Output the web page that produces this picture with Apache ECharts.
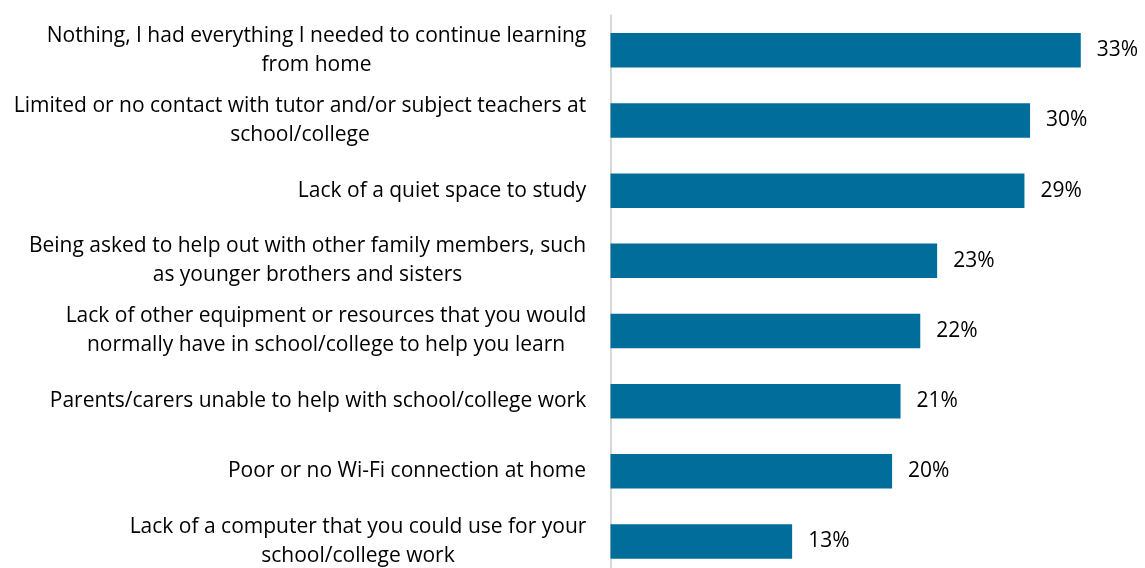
<!DOCTYPE html>
<html>
<head>
<meta charset="utf-8">
<script src="https://cdn.jsdelivr.net/npm/echarts@6/dist/echarts.min.js"></script>
<style>
html,body{margin:0;padding:0;background:#fff;overflow:hidden;}
#chart{width:1145px;height:590px;}
</style>
</head>
<body>
<div id="chart"></div>
<script>
const categories = [
  "Nothing, I had everything I needed to continue learning\nfrom home",
  "Limited or no contact with tutor and/or subject teachers at\nschool/college",
  "Lack of a quiet space to study",
  "Being asked to help out with other family members, such\nas younger brothers and sisters",
  "Lack of other equipment or resources that you would\nnormally have in school/college to help you learn",
  "Parents/carers unable to help with school/college work",
  "Poor or no Wi-Fi connection at home",
  "Lack of a computer that you could use for your\nschool/college work"
];
const values = [33.4, 29.8, 29.4, 23.2, 22.0, 20.6, 20.0, 12.9];

const FONT = 'Open Sans';
const FS = 21;
const LH = 29;
const TEXT_COLOR = '#000000';
const BAR_COLOR = '#006d9a';

const ctx = document.createElement('canvas').getContext('2d');
ctx.font = FS + 'px "' + FONT + '"';
const rich = {};
categories.forEach((c, i) => {
  const w = Math.max(...c.split('\n').map(l => ctx.measureText(l).width));
  rich['c' + i] = {width: Math.ceil(w) + 2, align: 'center', fontSize: FS, fontFamily: FONT, lineHeight: LH, color: TEXT_COLOR};
});

const chart = echarts.init(document.getElementById('chart'), null, {renderer: 'canvas'});
chart.setOption({
  animation: false,
  backgroundColor: '#ffffff',
  grid: {left: 610.5, top: 15.2, width: 492.8, height: 561.4, containLabel: false},
  xAxis: {type: 'value', min: 0, max: 35, show: false},
  yAxis: {
    type: 'category',
    data: categories,
    inverse: true,
    axisLine: {show: true, lineStyle: {color: '#d9d9d9', width: 2}},
    axisTick: {show: false},
    axisLabel: {
      margin: 23,
      align: 'right',
      fontSize: FS,
      fontFamily: FONT,
      color: TEXT_COLOR,
      lineHeight: LH,
      rich: rich,
      formatter: function (value, index) {
        return value.split('\n').map(l => '{c' + index + '|' + l + '}').join('\n');
      }
    },
    splitLine: {show: false}
  },
  series: [{
    type: 'bar',
    data: values,
    barWidth: 34.5,
    itemStyle: {color: BAR_COLOR},
    label: {
      show: true,
      position: 'right',
      distance: 16,
      fontSize: FS,
      fontFamily: FONT,
      color: TEXT_COLOR,
      formatter: p => Math.round(p.value) + '%'
    }
  }]
});
</script>
</body>
</html>
